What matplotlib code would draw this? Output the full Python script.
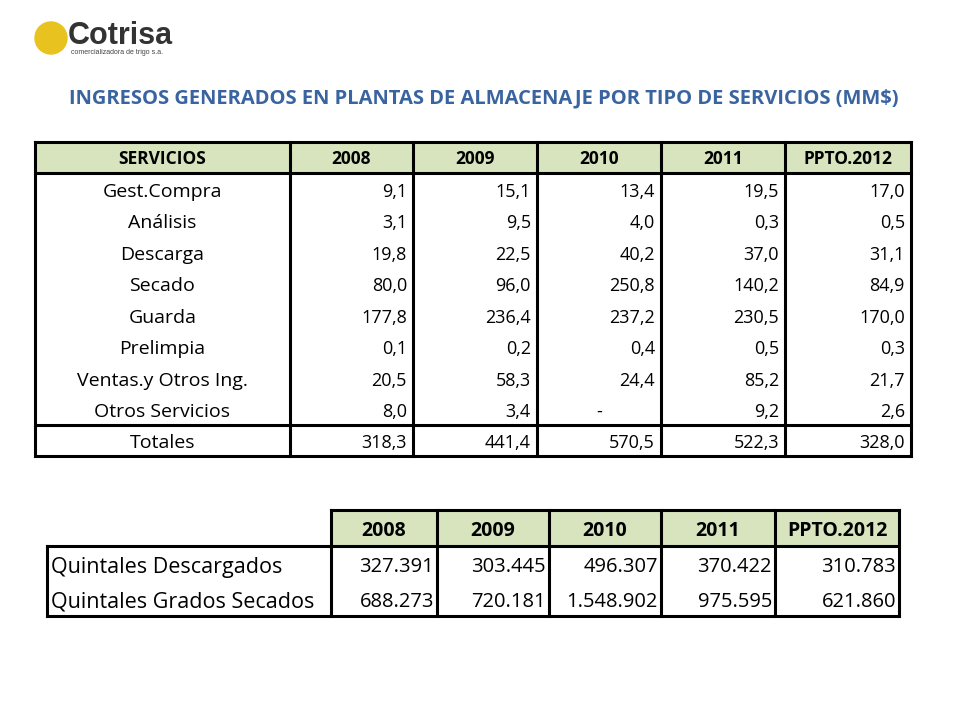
import matplotlib
matplotlib.use("Agg")
import matplotlib.pyplot as plt
from matplotlib.patches import Rectangle, Circle

# data
years = ["2008", "2009", "2010", "2011", "PPTO.2012"]
servicios = ["Gest.Compra", "Análisis", "Descarga", "Secado", "Guarda",
             "Prelimpia", "Ventas.y Otros Ing.", "Otros Servicios"]
valores = [
    ["9,1", "15,1", "13,4", "19,5", "17,0"],
    ["3,1", "9,5", "4,0", "0,3", "0,5"],
    ["19,8", "22,5", "40,2", "37,0", "31,1"],
    ["80,0", "96,0", "250,8", "140,2", "84,9"],
    ["177,8", "236,4", "237,2", "230,5", "170,0"],
    ["0,1", "0,2", "0,4", "0,5", "0,3"],
    ["20,5", "58,3", "24,4", "85,2", "21,7"],
    ["8,0", "3,4", "-", "9,2", "2,6"],
]
totales = ["318,3", "441,4", "570,5", "522,3", "328,0"]
quintales = ["Quintales Descargados", "Quintales Grados Secados"]
quintales_vals = [
    ["327.391", "303.445", "496.307", "370.422", "310.783"],
    ["688.273", "720.181", "1.548.902", "975.595", "621.860"],
]

HDR = "#d7e4bd"
FONT = "Open Sans"
VA = "center_baseline"

fig = plt.figure(figsize=(9.6, 7.2), dpi=100)
ax = fig.add_axes([0, 0, 1, 1])
ax.set_xlim(0, 960)
ax.set_ylim(720, 0)
ax.axis("off")


def line(x0, y0, x1, y1, lw=2.2):
    ax.plot([x0, x1], [y0, y1], color="black", lw=lw, solid_capstyle="projecting")


# logo
ax.add_patch(Circle((51, 38), 16, color="#e8c21e"))
ax.text(68, 36, "Cotrisa", fontsize=22, fontweight="bold", color="#333333",
        family="Liberation Sans", va="center", ha="left")
ax.text(71, 53, "comercializadora de trigo s.a.", fontsize=5, color="#444444",
        family="Liberation Sans", va="center", ha="left")

# title
ax.text(484, 96, "INGRESOS GENERADOS EN PLANTAS DE ALMACENAJE POR TIPO DE SERVICIOS (MM$)",
        fontsize=14.5, fontweight="bold", color="#3a64a0", family=FONT, ha="center", va=VA)

# table 1
xs = [35, 290, 413, 537, 661, 785, 911]
top, hdr_b, body_b, bot = 142, 173, 425, 456
rh = (body_b - hdr_b) / len(servicios)
ax.add_patch(Rectangle((xs[0], top), xs[-1] - xs[0], hdr_b - top, color=HDR, zorder=0))
ax.text((xs[0] + xs[1]) / 2, (top + hdr_b) / 2, "SERVICIOS", fontsize=12.5, fontweight="bold",
        family=FONT, ha="center", va=VA)
for j, y in enumerate(years):
    ax.text((xs[j + 1] + xs[j + 2]) / 2, (top + hdr_b) / 2, y, fontsize=12.5, fontweight="bold",
            family=FONT, ha="center", va=VA)
for i, (name, row) in enumerate(zip(servicios, valores)):
    yc = hdr_b + rh * (i + 0.5) + 1
    ax.text((xs[0] + xs[1]) / 2, yc, name, fontsize=14, family=FONT, ha="center", va=VA)
    for j, v in enumerate(row):
        if v == "-":
            ax.text((xs[j + 1] + xs[j + 2]) / 2, yc, v, fontsize=13, family=FONT,
                    ha="center", va=VA)
        else:
            ax.text(xs[j + 2] - 6, yc, v, fontsize=13, family=FONT, ha="right", va=VA)
yc = (body_b + bot) / 2 + 1
ax.text((xs[0] + xs[1]) / 2, yc, "Totales", fontsize=14, family=FONT, ha="center", va=VA)
for j, v in enumerate(totales):
    ax.text(xs[j + 2] - 6, yc, v, fontsize=13, family=FONT, ha="right", va=VA)
for x in xs:
    line(x, top, x, bot)
for y in [top, hdr_b, body_b, bot]:
    line(xs[0], y, xs[-1], y)

# table 2
xs2 = [47, 331, 437, 549, 661, 775, 899]
t2, h2, b2 = 510, 546, 616
ax.add_patch(Rectangle((xs2[1], t2), xs2[-1] - xs2[1], h2 - t2, color=HDR, zorder=0))
for j, y in enumerate(years):
    ax.text((xs2[j + 1] + xs2[j + 2]) / 2, (t2 + h2) / 2, y, fontsize=14, fontweight="bold",
            family=FONT, ha="center", va=VA)
rh2 = (b2 - h2) / 2
for i, (name, row) in enumerate(zip(quintales, quintales_vals)):
    yc = h2 + rh2 * (i + 0.5) + 1
    ax.text(xs2[0] + 4, yc, name, fontsize=15.5, family=FONT, ha="left", va=VA)
    for j, v in enumerate(row):
        ax.text(xs2[j + 2] - 3, yc, v, fontsize=14.5, family=FONT, ha="right", va=VA)
for x in xs2[1:]:
    line(x, t2, x, b2)
line(xs2[0], h2, xs2[0], b2)
line(xs2[1], t2, xs2[-1], t2)
line(xs2[0], h2, xs2[-1], h2)
line(xs2[0], b2, xs2[-1], b2)

fig.savefig("out.png", dpi=100)
